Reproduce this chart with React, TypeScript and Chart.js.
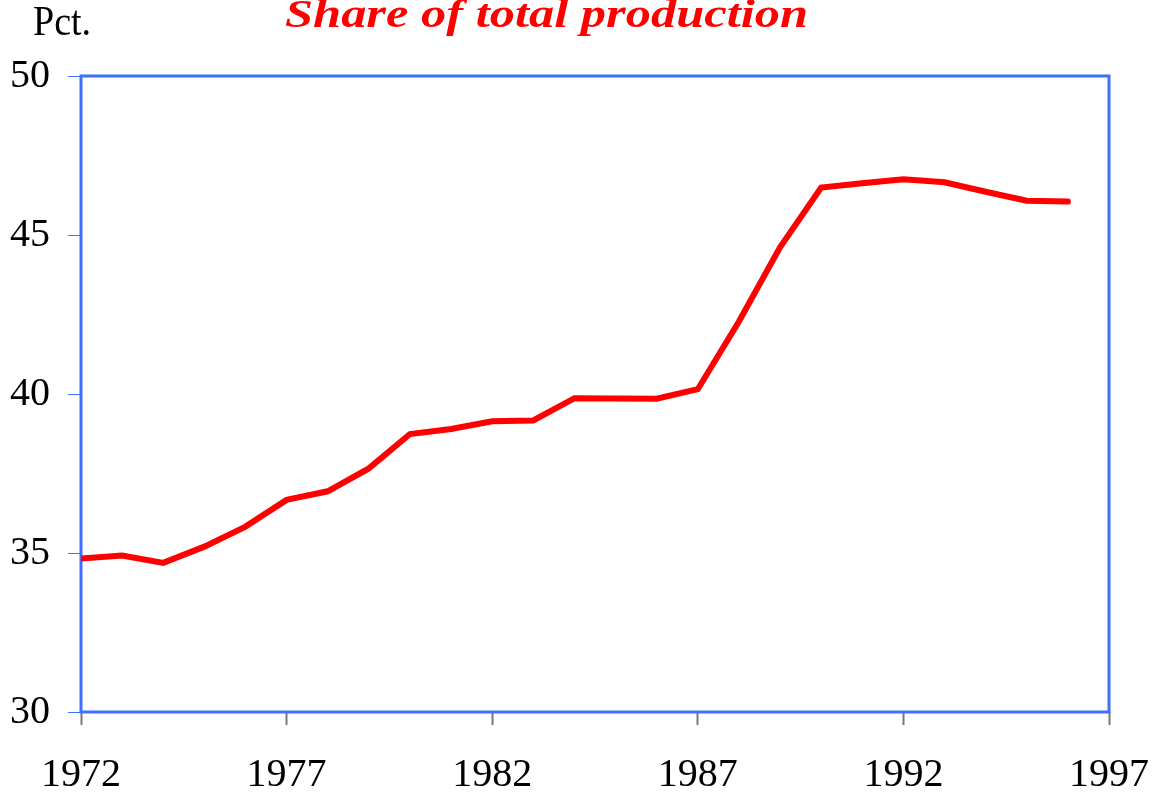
import React, { useEffect, useRef } from "react";
import { Chart, registerables } from "chart.js";

Chart.register(...registerables);

const years = [
  1972, 1973, 1974, 1975, 1976, 1977, 1978, 1979, 1980, 1981, 1982, 1983, 1984,
  1985, 1986, 1987, 1988, 1989, 1990, 1991, 1992, 1993, 1994, 1995, 1996,
];
const shareValues = [
  34.83, 34.92, 34.69, 35.2, 35.83, 36.67, 36.94, 37.66, 38.74, 38.9, 39.14,
  39.17, 39.87, 39.86, 39.85, 40.15, 42.28, 44.61, 46.49, 46.63, 46.75, 46.66,
  46.36, 46.08, 46.05,
];
const yTickValues = [30, 35, 40, 45, 50];
const xTickValues = [1972, 1977, 1982, 1987, 1992, 1997];
const titleText = "Share of total production";
const unitText = "Pct.";

const FRAME_BLUE = "#3f6fff";
const SERIF = '"Liberation Serif", "Times New Roman", serif';

export default function App() {
  const canvasRef = useRef<HTMLCanvasElement | null>(null);

  useEffect(() => {
    document.body.style.margin = "0";
    const canvas = canvasRef.current;
    if (!canvas) return;

    const decorPlugin = {
      id: "decor",
      beforeDatasetsDraw(chart: any) {
        const { ctx, chartArea } = chart;
        ctx.save();
        ctx.strokeStyle = FRAME_BLUE;
        ctx.lineWidth = 3;
        ctx.strokeRect(
          chartArea.left,
          chartArea.top,
          chartArea.right - chartArea.left,
          chartArea.bottom - chartArea.top
        );
        ctx.restore();
      },
      afterDraw(chart: any) {
        const { ctx } = chart;
        ctx.save();
        ctx.fillStyle = "#ff0000";
        ctx.font = `bold italic 40px ${SERIF}`;
        ctx.textAlign = "center";
        ctx.textBaseline = "alphabetic";
        const w = ctx.measureText(titleText).width || 1;
        const sx = 523 / w;
        ctx.translate(546.5, 27);
        ctx.scale(sx, 1);
        ctx.fillText(titleText, 0, 0);
        ctx.restore();

        ctx.save();
        ctx.fillStyle = "#000000";
        ctx.font = `38px ${SERIF}`;
        ctx.textAlign = "left";
        ctx.textBaseline = "alphabetic";
        ctx.translate(33, 35);
        ctx.scale(1, 1.12);
        ctx.fillText(unitText, 0, 0);
        ctx.restore();
      },
    };

    const chart = new Chart(canvas, {
      type: "line",
      data: {
        datasets: [
          {
            data: years.map((y, i) => ({ x: y, y: shareValues[i] })),
            borderColor: "#ff0000",
            borderWidth: 6,
            pointRadius: 0,
            tension: 0,
            fill: false,
            borderCapStyle: "round",
            borderJoinStyle: "miter",
          },
        ],
      },
      options: {
        responsive: false,
        animation: false,
        layout: { padding: { top: 76, right: 53, left: 0, bottom: 0 } },
        plugins: {
          legend: { display: false },
          tooltip: { enabled: false },
          title: { display: false },
        },
        scales: {
          x: {
            type: "linear",
            min: 1972,
            max: 1997,
            afterFit: (scale: any) => {
              scale.height = 86;
              scale.paddingLeft = 0;
              scale.paddingRight = 0;
            },
            afterBuildTicks: (scale: any) => {
              scale.ticks = xTickValues.map((v) => ({ value: v }));
            },
            border: { display: false },
            grid: {
              drawOnChartArea: false,
              drawTicks: true,
              tickLength: 13,
              tickColor: "#777777",
              tickWidth: 2,
            },
            ticks: {
              color: "#000000",
              font: { family: SERIF, size: 40 },
              padding: 26,
              maxRotation: 0,
              autoSkip: false,
              callback: (v: any) => String(v),
            },
          },
          y: {
            type: "linear",
            min: 30,
            max: 50,
            afterFit: (scale: any) => {
              scale.width = 81;
              scale.paddingTop = 0;
              scale.paddingBottom = 0;
            },
            afterBuildTicks: (scale: any) => {
              scale.ticks = yTickValues.map((v) => ({ value: v }));
            },
            border: { display: false },
            grid: {
              drawOnChartArea: false,
              drawTicks: true,
              tickLength: 13,
              tickColor: FRAME_BLUE,
              tickWidth: 1,
            },
            ticks: {
              color: "#000000",
              font: { family: SERIF, size: 40 },
              padding: 18,
              callback: (v: any) => String(v),
            },
          },
        },
      },
      plugins: [decorPlugin],
    } as any);

    return () => {
      chart.destroy();
    };
  }, []);

  return (
    <div style={{ width: 1162, height: 798, background: "#ffffff" }}>
      <canvas ref={canvasRef} width={1162} height={798} />
    </div>
  );
}
